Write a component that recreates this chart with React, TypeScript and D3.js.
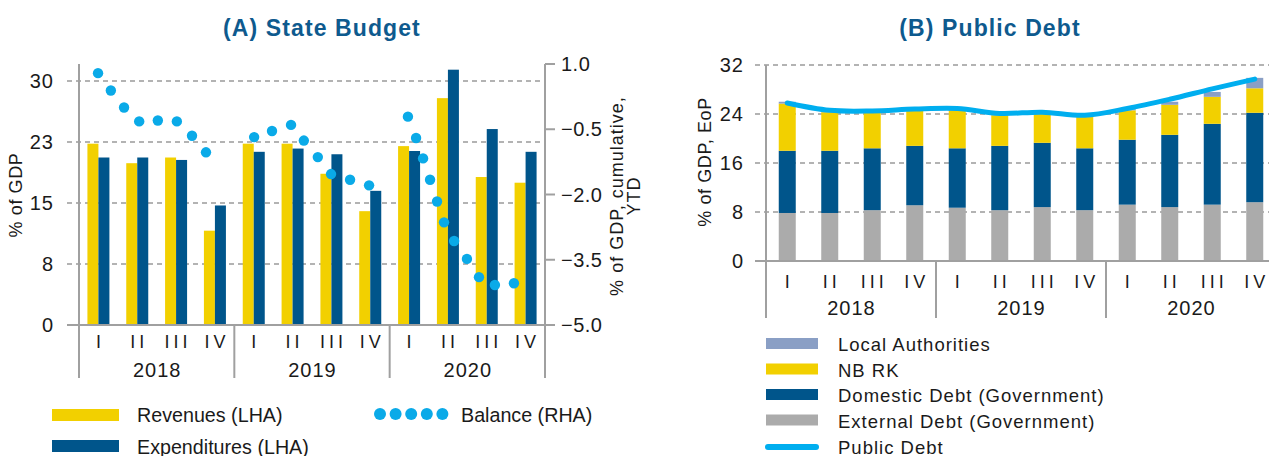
import React from "react";
import * as d3 from "d3";

// ---------- data ----------
const quarters = ["I", "II", "III", "IV"];
const years = ["2018", "2019", "2020"];
const periods = years.flatMap((y) => quarters.map((q) => `${y}-${q}`));

// Panel A (% of GDP)
const revenues = [22.3, 19.9, 20.6, 11.6, 22.3, 22.3, 18.6, 14.0, 22.0, 27.9, 18.2, 17.5];
const expenditures = [20.6, 20.6, 20.3, 14.7, 21.3, 21.7, 21.0, 16.5, 21.4, 31.4, 24.1, 21.3];
// Balance, cumulative YTD: position on the quarter axis (in quarter units) and value
const balancePos = [
  0.49, 0.82, 1.16, 1.55, 2.03, 2.52, 2.91, 3.27,
  4.51, 4.97, 5.46, 5.79, 6.15, 6.49, 6.98, 7.47,
  8.47, 8.68, 8.86, 9.04, 9.22, 9.4, 9.66, 9.99, 10.3, 10.71, 11.2,
];
const balanceVal = [
  0.79, 0.39, 0.0, -0.32, -0.3, -0.32, -0.65, -1.03,
  -0.68, -0.54, -0.4, -0.76, -1.14, -1.53, -1.66, -1.79,
  -0.21, -0.7, -1.17, -1.66, -2.16, -2.64, -3.07, -3.48, -3.9, -4.08, -4.04,
];
const leftTicks = [0, 7.5, 15, 22.5, 30];
const rightTicks = [-5, -3.5, -2, -0.5, 1];

// Panel B (% of GDP, EoP)
const externalDebt = [7.84, 7.84, 8.3, 9.1, 8.7, 8.3, 8.8, 8.3, 9.2, 8.8, 9.2, 9.6];
const domesticDebt = [10.16, 10.16, 10.1, 9.7, 9.7, 10.5, 10.5, 10.1, 10.6, 11.8, 13.2, 14.6];
const nbrk = [7.7, 6.3, 5.8, 5.7, 6.2, 5.0, 4.7, 5.1, 4.8, 4.9, 4.4, 4.0];
const localAuth = [0.3, 0.2, 0.2, 0.2, 0.2, 0.2, 0.2, 0.2, 0.2, 0.5, 0.8, 1.7];
const publicDebt = [25.8, 24.6, 24.5, 24.8, 24.9, 24.1, 24.3, 23.8, 24.9, 26.4, 28.1, 29.7];
const debtTicks = [0, 8, 16, 24, 32];

// ---------- styles ----------
const C = {
  yellow: "#F2D000",
  navy: "#00558B",
  dot: "#0AAAE8",
  gray: "#ABABAB",
  local: "#8A9FC5",
  line: "#00AEEF",
  title: "#0E5A8E",
  axis: "#A0A0A0",
  grid: "#9A9A9A",
  text: "#1A1A1A",
};
const FONT = "'Liberation Sans', Arial, sans-serif";

function CategoryAxis({ x, y0, x0, x1, qY, yrY, bottom }: any) {
  const bw = x.bandwidth();
  const seps = [0, 4, 8].map((i) => x(periods[i]));
  return (
    <g>
      <line x1={x0} x2={x1} y1={y0} y2={y0} stroke={C.axis} strokeWidth={2} />
      {seps.slice(1).map((sx: number, i: number) => (
        <line key={i} x1={sx} x2={sx} y1={y0} y2={bottom} stroke={C.axis} strokeWidth={2} />
      ))}
      {periods.map((p, i) => (
        <text
          key={p}
          x={x(p) + bw / 2 + 2}
          y={qY}
          textAnchor="middle"
          dominantBaseline="central"
          fontFamily={FONT}
          fontSize={18}
          letterSpacing={4}
          fill={C.text}
        >
          {quarters[i % 4]}
        </text>
      ))}
      {years.map((yr, i) => (
        <text
          key={yr}
          x={x(periods[i * 4]) + bw * 2 + 0.5}
          y={yrY}
          textAnchor="middle"
          dominantBaseline="central"
          fontFamily={FONT}
          fontSize={20}
          letterSpacing={1}
          fill={C.text}
        >
          {yr}
        </text>
      ))}
    </g>
  );
}

function LegendText({ x, y, children }: any) {
  return (
    <text x={x} y={y} dominantBaseline="central" fontFamily={FONT} fontSize={19.7} fill={C.text}>
      {children}
    </text>
  );
}

function PanelA() {
  const left = 79, right = 545, top = 64, base = 325, bottom = 378;
  const x = d3.scaleBand().domain(periods).range([left, right]);
  const xp = d3.scaleLinear().domain([0, 12]).range([left, right]);
  const yL = d3.scaleLinear().domain([0, 32.1]).range([base, top]);
  const yR = d3.scaleLinear().domain([-5, 1]).range([base, top]);
  const bw = 11;
  const fmtL = (v: number) => String(Math.round(v));
  const fmtR = d3.format(".1f");
  return (
    <g>
      <text x={322} y={36} textAnchor="middle" fontFamily={FONT} fontWeight="bold" fontSize={23} letterSpacing={1.1} fill={C.title}>
        (A) State Budget
      </text>
      {leftTicks.slice(1).map((t) => (
        <line key={t} x1={67} x2={right} y1={yL(t)} y2={yL(t)} stroke={C.grid} strokeWidth={1.5} strokeDasharray="5,4" />
      ))}
      {leftTicks.map((t) => (
        <text key={t} x={54} y={yL(t)} textAnchor="end" dominantBaseline="central" fontFamily={FONT} fontSize={20} letterSpacing={1} fill={C.text}>
          {fmtL(t)}
        </text>
      ))}
      {rightTicks.map((t) => (
        <g key={t}>
          <line x1={right} x2={555} y1={yR(t)} y2={yR(t)} stroke={C.axis} strokeWidth={2} />
          <text x={561} y={yR(t)} dominantBaseline="central" fontFamily={FONT} fontSize={20} letterSpacing={0.5} fill={C.text}>
            {fmtR(t)}
          </text>
        </g>
      ))}
      {periods.map((p, i) => (
        <g key={p}>
          <rect x={x(p)! + x.bandwidth() / 2 - bw} y={yL(revenues[i])} width={bw} height={base - yL(revenues[i])} fill={C.yellow} />
          <rect x={x(p)! + x.bandwidth() / 2} y={yL(expenditures[i])} width={bw} height={base - yL(expenditures[i])} fill={C.navy} />
        </g>
      ))}
      <line x1={left} x2={left} y1={top} y2={bottom} stroke={C.axis} strokeWidth={2} />
      <line x1={right} x2={right} y1={top} y2={bottom} stroke={C.axis} strokeWidth={2} />
      <CategoryAxis x={x} y0={base} x0={67} x1={555} qY={342} yrY={370} bottom={bottom} />
      {balancePos.map((p, i) => (
        <circle key={i} cx={xp(p)} cy={yR(balanceVal[i])} r={5.2} fill={C.dot} />
      ))}
      <text transform="translate(16,195) rotate(-90)" textAnchor="middle" dominantBaseline="central" fontFamily={FONT} fontSize={18} letterSpacing={0.6} fill={C.text}>
        % of GDP
      </text>
      <text transform="translate(617,196) rotate(-90)" textAnchor="middle" dominantBaseline="central" fontFamily={FONT} fontSize={18} letterSpacing={1} fill={C.text}>
        % of GDP, cumulative,
      </text>
      <text transform="translate(634,196) rotate(-90)" textAnchor="middle" dominantBaseline="central" fontFamily={FONT} fontSize={18} letterSpacing={1} fill={C.text}>
        YTD
      </text>
      {/* legend */}
      <rect x={52} y={409} width={67} height={12} fill={C.yellow} />
      <LegendText x={137} y={415}>Revenues (LHA)</LegendText>
      <rect x={52} y={440} width={67} height={12} fill={C.navy} />
      <LegendText x={137} y={447}>Expenditures (LHA)</LegendText>
      {[0, 1, 2, 3, 4].map((k) => (
        <circle key={k} cx={380 + k * 15.6} cy={414} r={6} fill={C.dot} />
      ))}
      <LegendText x={461} y={415}>Balance (RHA)</LegendText>
    </g>
  );
}

function PanelB() {
  const left = 766, right = 1276, top = 65, base = 261, bottom = 318;
  const x = d3.scaleBand().domain(periods).range([left, right]);
  const y = d3.scaleLinear().domain([0, 32]).range([base, top]);
  const bw = 17;
  const rows = periods.map((p, i) => ({
    p,
    external: externalDebt[i],
    domestic: domesticDebt[i],
    nbrk: nbrk[i],
    local: localAuth[i],
  }));
  const keys = ["external", "domestic", "nbrk", "local"];
  const colors: Record<string, string> = { external: C.gray, domestic: C.navy, nbrk: C.yellow, local: C.local };
  const stack = d3.stack<any>().keys(keys)(rows);
  const line = d3
    .line<number>()
    .x((_, i) => x(periods[i])! + x.bandwidth() / 2)
    .y((d) => y(d))
    .curve(d3.curveCatmullRom.alpha(0.5));
  const legend = [
    { label: "Local Authorities", color: C.local },
    { label: "NB RK", color: C.yellow },
    { label: "Domestic Debt (Government)", color: C.navy },
    { label: "External Debt (Government)", color: C.gray },
  ];
  return (
    <g>
      <text x={990} y={36} textAnchor="middle" fontFamily={FONT} fontWeight="bold" fontSize={23} letterSpacing={1.1} fill={C.title}>
        (B) Public Debt
      </text>
      {debtTicks.slice(1).map((t) => (
        <line key={t} x1={755} x2={right} y1={y(t)} y2={y(t)} stroke={C.grid} strokeWidth={1.5} strokeDasharray="5,4" />
      ))}
      {debtTicks.map((t) => (
        <text key={t} x={744} y={y(t)} textAnchor="end" dominantBaseline="central" fontFamily={FONT} fontSize={20} letterSpacing={1} fill={C.text}>
          {t}
        </text>
      ))}
      {stack.map((s) => (
        <g key={s.key} fill={colors[s.key]}>
          {s.map((d, i) => (
            <rect key={i} x={x(periods[i])! + x.bandwidth() / 2 - bw / 2} y={y(d[1])} width={bw} height={y(d[0]) - y(d[1])} />
          ))}
        </g>
      ))}
      <line x1={left} x2={left} y1={top} y2={bottom} stroke={C.axis} strokeWidth={2} />
      <CategoryAxis x={x} y0={base} x0={755} x1={1290} qY={282} yrY={308} bottom={bottom} />
      <path d={line(publicDebt) || ""} fill="none" stroke={C.line} strokeWidth={5} strokeLinecap="round" />
      <text transform="translate(705,162) rotate(-90)" textAnchor="middle" dominantBaseline="central" fontFamily={FONT} fontSize={18} letterSpacing={0.6} fill={C.text}>
        % of GDP, EoP
      </text>
      {legend.map((l, i) => (
        <g key={l.label}>
          <rect x={766} y={338 + i * 25.5} width={52} height={11} fill={l.color} />
          <text x={838} y={344.5 + i * 25.5} dominantBaseline="central" fontFamily={FONT} fontSize={18.5} letterSpacing={1} fill={C.text}>
            {l.label}
          </text>
        </g>
      ))}
      <line x1={768} x2={816} y1={447} y2={447} stroke={C.line} strokeWidth={6} strokeLinecap="round" />
      <text x={838} y={447} dominantBaseline="central" fontFamily={FONT} fontSize={18.5} letterSpacing={1} fill={C.text}>
        Public Debt
      </text>
    </g>
  );
}

export default function App() {
  return (
    <div style={{ position: "absolute", left: 0, top: 0, width: 1269, height: 456, overflow: "hidden", background: "#fff" }}>
      <svg width={1269} height={456} style={{ display: "block" }}>
        <rect width={1269} height={456} fill="#fff" />
        <PanelA />
        <PanelB />
      </svg>
    </div>
  );
}
